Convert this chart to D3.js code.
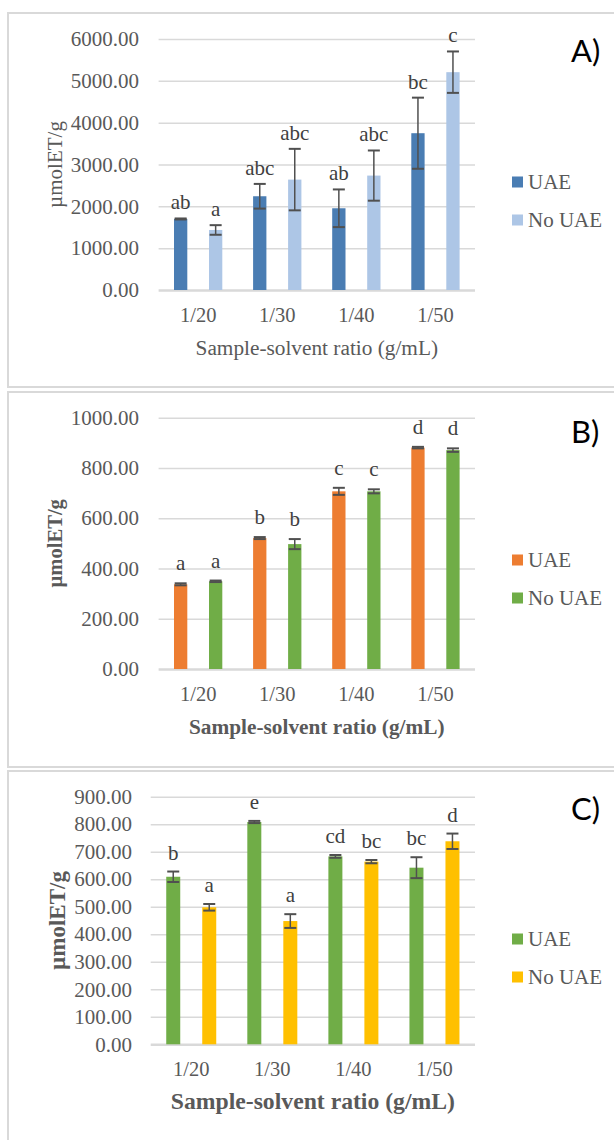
<!DOCTYPE html>
<html>
<head>
<meta charset="utf-8">
<script src="https://cdn.jsdelivr.net/npm/d3@7"></script>
<style>
  body { margin: 0; background: #fff; }
  svg { display: block; }
</style>
</head>
<body>
<div id="chart"></div>
<script>
// Categories and series
const categories = ["1/20", "1/30", "1/40", "1/50"];
const series = ["UAE", "No UAE"];

// Panel A
const aUae = [1698, 2241, 1954, 3748];
const aUaeErr = [12, 295, 450, 850];
const aNoUae = [1435, 2639, 2735, 5207];
const aNoUaeErr = [115, 735, 600, 495];
const aUaeLetters = ["ab", "abc", "ab", "bc"];
const aNoUaeLetters = ["a", "abc", "abc", "c"];
const aTicks = [0, 1000, 2000, 3000, 4000, 5000, 6000];

// Panel B
const bUae = [337, 521, 707, 881];
const bUaeErr = [4, 4, 14, 3];
const bNoUae = [349, 497, 707, 871];
const bNoUaeErr = [3, 20, 8, 7];
const bUaeLetters = ["a", "b", "c", "d"];
const bNoUaeLetters = ["a", "b", "c", "d"];
const bTicks = [0, 200, 400, 600, 800, 1000];

// Panel C
const cUae = [609, 808, 683, 642];
const cUaeErr = [19, 4, 5, 38];
const cNoUae = [498, 448, 664, 738];
const cNoUaeErr = [12, 25, 6, 28];
const cUaeLetters = ["b", "e", "cd", "bc"];
const cNoUaeLetters = ["a", "a", "bc", "d"];
const cTicks = [0, 100, 200, 300, 400, 500, 600, 700, 800, 900];

const serif = "'Liberation Serif', 'Times New Roman', serif";
const textGray = "#595959";

const svg = d3.select("#chart").append("svg")
  .attr("width", 614)
  .attr("height", 1140);

function drawPanel(p) {
  const g = svg.append("g");

  // panel frame
  g.append("rect")
    .attr("x", 8).attr("y", p.boxTop)
    .attr("width", 640).attr("height", p.boxBottom - p.boxTop)
    .attr("fill", "none")
    .attr("stroke", "#d9d9d9")
    .attr("stroke-width", 2);

  const x = d3.scaleBand().domain(categories).range([p.x0, p.x1]);
  const xs = d3.scalePoint().domain(series).range([-p.offset, p.offset]);
  const y = d3.scaleLinear().domain([0, d3.max(p.ticks)]).range([p.yBottom, p.yTop]);

  // gridlines + tick labels
  const yAxis = g.append("g")
    .attr("transform", `translate(${p.x0},0)`)
    .call(d3.axisLeft(y).tickValues(p.ticks).tickFormat(d3.format(".2f"))
      .tickSize(-(p.x1 - p.x0)).tickPadding(p.tickPad));
  yAxis.select(".domain").remove();
  yAxis.selectAll("line")
    .attr("stroke", "#d9d9d9")
    .attr("stroke-width", d => d === 0 ? 2.5 : 1.5);
  yAxis.selectAll("text")
    .attr("fill", textGray)
    .style("font-family", serif)
    .style("font-size", "21px");

  // x labels
  const xAxis = g.append("g")
    .attr("transform", `translate(0,${p.yBottom})`)
    .call(d3.axisBottom(x).tickSize(0));
  xAxis.select(".domain").remove();
  xAxis.selectAll("text")
    .attr("y", 32).attr("dy", 0)
    .attr("fill", textGray)
    .style("font-family", serif)
    .style("font-size", "20.5px");

  // bars
  const rows = [];
  categories.forEach((c, i) => {
    rows.push({ cat: c, s: series[0], v: p.uae[i], e: p.uaeErr[i], l: p.uaeLetters[i] });
    rows.push({ cat: c, s: series[1], v: p.noUae[i], e: p.noUaeErr[i], l: p.noUaeLetters[i] });
  });
  const cx = d => x(d.cat) + x.bandwidth() / 2 + xs(d.s);
  const color = d3.scaleOrdinal().domain(series).range(p.colors);

  g.selectAll(".bar").data(rows).join("rect")
    .attr("class", "bar")
    .attr("x", d => cx(d) - p.barW / 2)
    .attr("y", d => y(d.v))
    .attr("width", p.barW)
    .attr("height", d => y(0) - y(d.v))
    .attr("fill", d => color(d.s));

  // error bars
  const eb = g.selectAll(".err").data(rows).join("g").attr("class", "err")
    .attr("stroke", "#505050").attr("stroke-width", 2);
  eb.append("line")
    .attr("x1", cx).attr("x2", cx)
    .attr("y1", d => y(d.v + d.e)).attr("y2", d => y(d.v - d.e))
    .attr("stroke-width", 1.5);
  eb.append("line")
    .attr("x1", d => cx(d) - 6).attr("x2", d => cx(d) + 6)
    .attr("y1", d => y(d.v + d.e)).attr("y2", d => y(d.v + d.e));
  eb.append("line")
    .attr("x1", d => cx(d) - 6).attr("x2", d => cx(d) + 6)
    .attr("y1", d => y(d.v - d.e)).attr("y2", d => y(d.v - d.e));

  // significance letters
  g.selectAll(".letter").data(rows).join("text")
    .attr("class", "letter")
    .attr("x", cx)
    .attr("y", d => y(d.v + d.e) - p.letterGap)
    .attr("text-anchor", "middle")
    .attr("fill", "#404040")
    .style("font-family", serif)
    .style("font-size", "21px")
    .text(d => d.l);

  // axis titles
  g.append("text")
    .attr("transform", `translate(${p.yTitleX},${(p.yTop + p.yBottom) / 2}) rotate(-90)`)
    .attr("dy", "0.35em")
    .attr("text-anchor", "middle")
    .attr("fill", textGray)
    .style("font-family", serif)
    .style("font-size", p.yTitleSize + "px")
    .style("font-weight", p.bold ? "bold" : "normal")
    .text("µmolET/g");

  g.append("text")
    .attr("x", (p.x0 + p.x1) / 2)
    .attr("y", p.yBottom + 65)
    .attr("text-anchor", "middle")
    .attr("fill", textGray)
    .style("font-family", serif)
    .style("font-size", p.xTitleSize + "px")
    .style("font-weight", p.bold ? "bold" : "normal")
    .text("Sample-solvent ratio (g/mL)");

  // legend
  series.forEach((s, i) => {
    const ly = p.legendY + i * 38;
    g.append("rect")
      .attr("x", 512).attr("y", ly - 5.5)
      .attr("width", 11).attr("height", 11)
      .attr("fill", color(s));
    g.append("text")
      .attr("x", 528).attr("y", ly + 7)
      .attr("fill", textGray)
      .style("font-family", serif)
      .style("font-size", "21px")
      .text(s);
  });

  // panel tag
  g.append("text")
    .attr("x", 571).attr("y", p.tagY)
    .attr("fill", "#000")
    .style("font-family", "Lato, 'Open Sans', sans-serif")
    .style("font-size", "31px")
    .text(p.tag);
}

drawPanel({
  tag: "A)", tagY: 62, boxTop: 13, boxBottom: 387,
  x0: 158.6, x1: 475, yTop: 39, yBottom: 290, offset: 17.5, barW: 13.3,
  tickPad: 19.5, yTitleX: 55, letterGap: 9, legendY: 182, bold: false,
  yTitleSize: 21, xTitleSize: 21.3,
  ticks: aTicks, uae: aUae, uaeErr: aUaeErr, noUae: aNoUae, noUaeErr: aNoUaeErr,
  uaeLetters: aUaeLetters, noUaeLetters: aNoUaeLetters,
  colors: ["#4a7db3", "#adc6e6"]
});

drawPanel({
  tag: "B)", tagY: 443, boxTop: 392, boxBottom: 767,
  x0: 158.6, x1: 475, yTop: 417.7, yBottom: 669, offset: 17.5, barW: 13.3,
  tickPad: 19.5, yTitleX: 55, letterGap: 13, legendY: 560, bold: true,
  yTitleSize: 20.6, xTitleSize: 21.3,
  ticks: bTicks, uae: bUae, uaeErr: bUaeErr, noUae: bNoUae, noUaeErr: bNoUaeErr,
  uaeLetters: bUaeLetters, noUaeLetters: bNoUaeLetters,
  colors: ["#ed7d31", "#70ad47"]
});

drawPanel({
  tag: "C)", tagY: 820, boxTop: 771, boxBottom: 1160,
  x0: 150.7, x1: 475, yTop: 796.7, yBottom: 1044.3, offset: 18, barW: 14,
  tickPad: 18.7, yTitleX: 57, letterGap: 12, legendY: 939, bold: true,
  yTitleSize: 23, xTitleSize: 23.7,
  ticks: cTicks, uae: cUae, uaeErr: cUaeErr, noUae: cNoUae, noUaeErr: cNoUaeErr,
  uaeLetters: cUaeLetters, noUaeLetters: cNoUaeLetters,
  colors: ["#70ad47", "#ffc000"]
});
</script>
</body>
</html>
